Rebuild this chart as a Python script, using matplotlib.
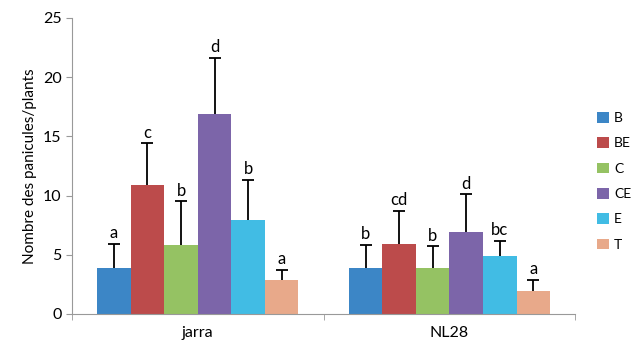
import matplotlib.pyplot as plt
import numpy as np

plt.rcParams['font.family'] = ['Lato', 'DejaVu Sans']

groups = ['jarra', 'NL28']
treatments = ['B', 'BE', 'C', 'CE', 'E', 'T']
colors = ['#3C86C6', '#BC4B4B', '#95C263', '#7C65A9', '#41BCE4', '#E8A98A']

means = {
    'jarra': [3.9, 10.9, 5.8, 16.9, 7.9, 2.9],
    'NL28': [3.9, 5.9, 3.9, 6.9, 4.9, 1.9],
}
errors = {
    'jarra': [2.0, 3.5, 3.7, 4.7, 3.4, 0.8],
    'NL28': [1.9, 2.8, 1.8, 3.2, 1.3, 1.0],
}
letters = {
    'jarra': ['a', 'c', 'b', 'd', 'b', 'a'],
    'NL28': ['b', 'cd', 'b', 'd', 'bc', 'a'],
}

fig = plt.figure(figsize=(6.37, 3.45), dpi=100)
ax = fig.add_axes([0.113, 0.09, 0.79, 0.858])

n = len(treatments)
width = 0.8 / n
x = np.arange(len(groups))

for i, t in enumerate(treatments):
    vals = np.array([means[g][i] for g in groups])
    errs = np.array([errors[g][i] for g in groups])
    pos = x - 0.4 + width * (i + 0.5)
    ax.bar(pos, vals, width, color=colors[i], label=t, edgecolor='none')
    # only the upper half of the error bar, with a cap on top
    ax.vlines(pos, vals, vals + errs, color='black', lw=1.3)
    ax.plot(pos, vals + errs, ls='none', marker='_', ms=8, mew=1.3, color='black')
    for p, top, g in zip(pos, vals + errs, groups):
        ax.annotate(letters[g][i], (p, top), xytext=(0, 2),
                    textcoords='offset points', ha='center', va='bottom',
                    fontsize=12)

ax.set_xlim(-0.5, len(groups) - 0.5)
ax.set_ylim(0, 25)
ax.set_yticks([0, 5, 10, 15, 20, 25])
ax.set_xticks(x)
ax.set_xticklabels(groups, fontsize=11.5)
ax.set_xticks([-0.5, 0.5, 1.5], minor=True)
ax.tick_params(axis='x', which='major', length=0, pad=9)
ax.tick_params(axis='x', which='minor', length=4, direction='out', color='#999999')
ax.tick_params(axis='y', length=4, direction='out', color='#999999', labelsize=11.5)
ax.set_ylabel('Nombre des panicules/plants', fontsize=11)

for s in ['top', 'right']:
    ax.spines[s].set_visible(False)
for s in ['left', 'bottom']:
    ax.spines[s].set_color('#999999')

ax.legend(loc='upper left', bbox_to_anchor=(1.022, 0.72), frameon=False,
          fontsize=10, handlelength=0.8, handleheight=0.8,
          labelspacing=0.95, handletextpad=0.4, borderpad=0.3)

fig.savefig('out.png', dpi=100)
